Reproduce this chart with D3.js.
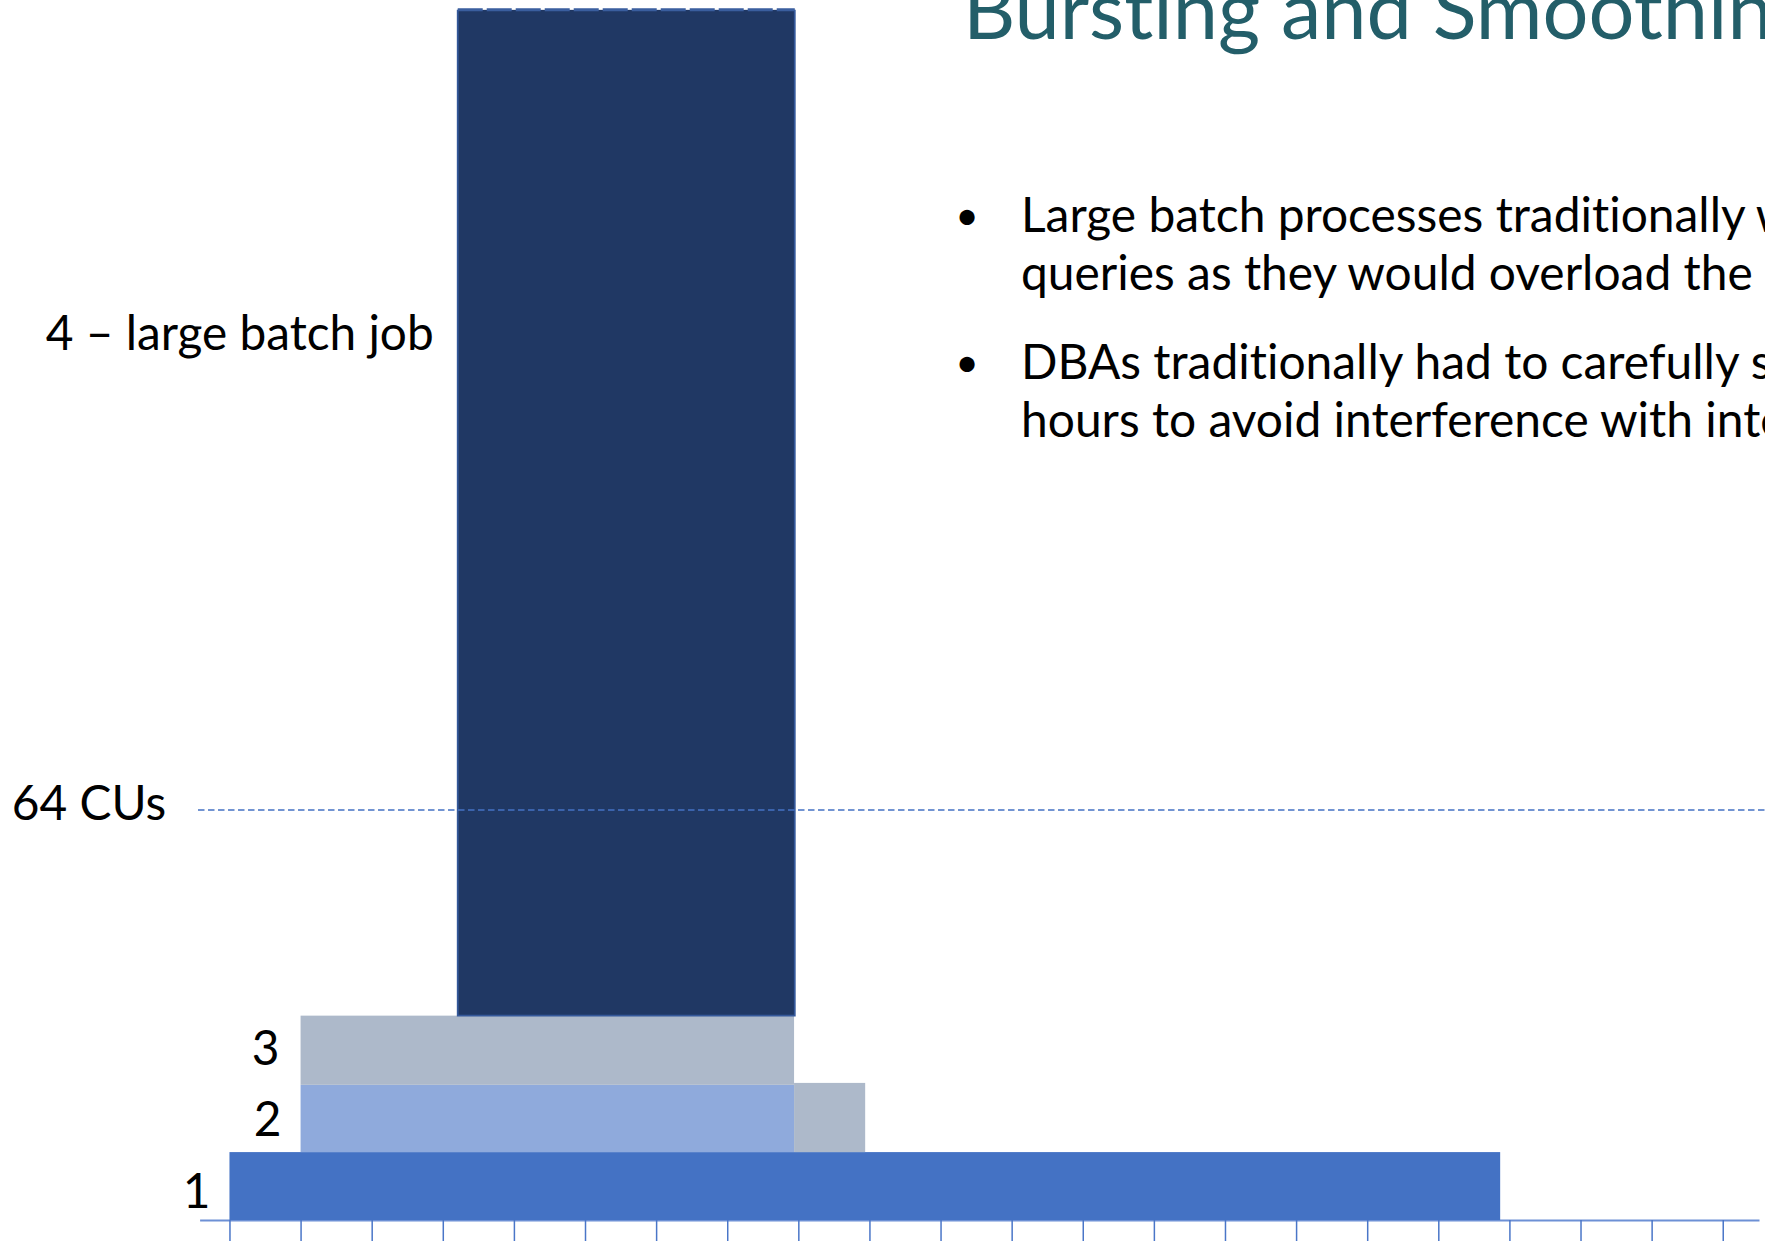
<!DOCTYPE html>
<html><head><meta charset="utf-8">
<script src="https://cdn.jsdelivr.net/npm/d3@7"></script>
<style>html,body{margin:0;padding:0;background:#fff;overflow:hidden} text{font-variant-ligatures:none;font-feature-settings:"liga" 0,"clig" 0}</style>
</head><body>
<script>
// ---------- data ----------
const timeTicks = d3.range(0, 22);                 // time slots on the x axis
const jobNames  = ["1", "2", "3", "4 – large batch job"];
const jobStart  = [0, 1, 1, 3.21];                 // time slot where each job starts
const jobEnd    = [17.87, 7.94, 7.94, 7.95];       // time slot where each job ends
const jobBase   = [0, 10.6, 21.1, 31.9];           // CUs stacked below the job
const jobTop    = [10.6, 21.1, 31.9, 188.9];       // CUs at top of the job
const carryStart = [7.94];                         // remainder of job 3 after job 2 ends
const carryEnd   = [8.94];
const carryBase  = [10.6];
const carryTop   = [21.4];
const capacityValue = 64;
const capacityLabel = "64 CUs";
const titleText = "Bursting and Smoothing";
const bulletLines = [
  ["Large batch processes traditionally w", "queries as they would overload the"],
  ["DBAs traditionally had to carefully s", "hours to avoid interference with inte"]
];

// ---------- layout ----------
const W = 1765, H = 1241;
const FONT = "Lato, 'Segoe UI', 'Open Sans', sans-serif";
const jobColors = ["#4472C4", "#8FAADC", "#ADB9CA", "#203864"];
const carryColor = "#ADB9CA";

const svg = d3.select("body").append("svg")
  .attr("width", W).attr("height", H)
  .style("display", "block");

const x = d3.scaleLinear().domain([-0.42, 21.51]).range([199.6, 1759]);
const y = d3.scaleLinear().domain([0, capacityValue]).range([1220, 810]);

function fitSize(text, target, weight) {
  const t = svg.append("text").attr("font-family", FONT).attr("font-size", 100)
    .attr("font-weight", weight || 400).text(text);
  const w = t.node().getComputedTextLength();
  t.remove();
  return 100 * target / w;
}
const labelSize  = fitSize("4 – large batch job", 388);
const bulletSize = fitSize("queries as they would overload the", 732);
const titleSize  = fitSize("Bursting and", 449, 400);

// axis
const axis = d3.axisBottom(x).tickValues(timeTicks).tickSize(30).tickSizeOuter(0).tickFormat("");
const ag = svg.append("g").attr("transform", `translate(0,${y(0)})`).call(axis);
ag.select(".domain").attr("stroke", "#6D90D5").attr("stroke-width", 2.2);
ag.selectAll(".tick line").attr("stroke", "#4A76C8").attr("stroke-width", 1.5);

// bars
const jobs = jobNames.map((n, i) => ({n, s: jobStart[i], e: jobEnd[i], b: jobBase[i], t: jobTop[i], c: jobColors[i]}));
svg.append("g").selectAll("rect").data(jobs.slice(0, 3)).join("rect")
  .attr("x", d => x(d.s)).attr("y", d => y(d.t))
  .attr("width", d => x(d.e) - x(d.s)).attr("height", d => y(d.b) - y(d.t))
  .attr("fill", d => d.c);

svg.append("g").selectAll("rect").data(carryStart.map((s, i) => ({s, e: carryEnd[i], b: carryBase[i], t: carryTop[i]})))
  .join("rect")
  .attr("x", d => x(d.s)).attr("y", d => y(d.t))
  .attr("width", d => x(d.e) - x(d.s)).attr("height", d => y(d.b) - y(d.t))
  .attr("fill", carryColor);

// big batch job with border, dashed top edge
const big = jobs[3];
const bx0 = x(big.s), bx1 = x(big.e), by0 = y(big.t), by1 = y(big.b);
svg.append("rect").attr("x", bx0).attr("y", by0).attr("width", bx1 - bx0).attr("height", by1 - by0)
  .attr("fill", big.c);
svg.append("path").attr("d", `M${bx0},${by0}V${by1}H${bx1}V${by0}`)
  .attr("fill", "none").attr("stroke", "#34589A").attr("stroke-width", 1.8);
svg.append("line").attr("x1", bx0).attr("x2", bx1).attr("y1", by0).attr("y2", by0)
  .attr("stroke", "#3A5E9E").attr("stroke-width", 3).attr("stroke-dasharray", "25,4");

// capacity line
svg.append("line").attr("x1", 198).attr("x2", W).attr("y1", y(capacityValue)).attr("y2", y(capacityValue))
  .attr("stroke", "#4472C4").attr("stroke-width", 1.6).attr("stroke-dasharray", "6.5,3.5");
svg.append("text").attr("x", 89).attr("y", y(capacityValue) + 10)
  .attr("text-anchor", "middle").attr("font-family", FONT).attr("font-size", labelSize)
  .attr("fill", "#000").text(capacityLabel);

// job labels
const labelGap = [19, 19, 21, 24];
const labelY   = [1208, 1136, 1065, 350];
svg.append("g").selectAll("text").data(jobs).join("text")
  .attr("x", (d, i) => x(d.s) - labelGap[i]).attr("y", (d, i) => labelY[i])
  .attr("text-anchor", "end").attr("font-family", FONT).attr("font-size", labelSize)
  .attr("fill", "#000").text(d => d.n);

// title
svg.append("text").attr("x", 963).attr("y", 39)
  .attr("font-family", FONT).attr("font-weight", 400).attr("font-size", titleSize)
  .attr("fill", "#235E69").text(titleText);

// bullets
const lineY = [[232, 290], [379, 437]];
bulletLines.forEach((lines, i) => {
  svg.append("text").attr("x", 967).attr("y", lineY[i][0] - 2)
    .attr("text-anchor", "middle")
    .attr("font-family", FONT).attr("font-size", bulletSize * 0.85).attr("fill", "#000").text("•");
  lines.forEach((ln, j) => {
    svg.append("text").attr("x", 1021).attr("y", lineY[i][j])
      .attr("font-family", FONT).attr("font-size", bulletSize).attr("fill", "#000").text(ln);
  });
});
</script>
</body></html>
